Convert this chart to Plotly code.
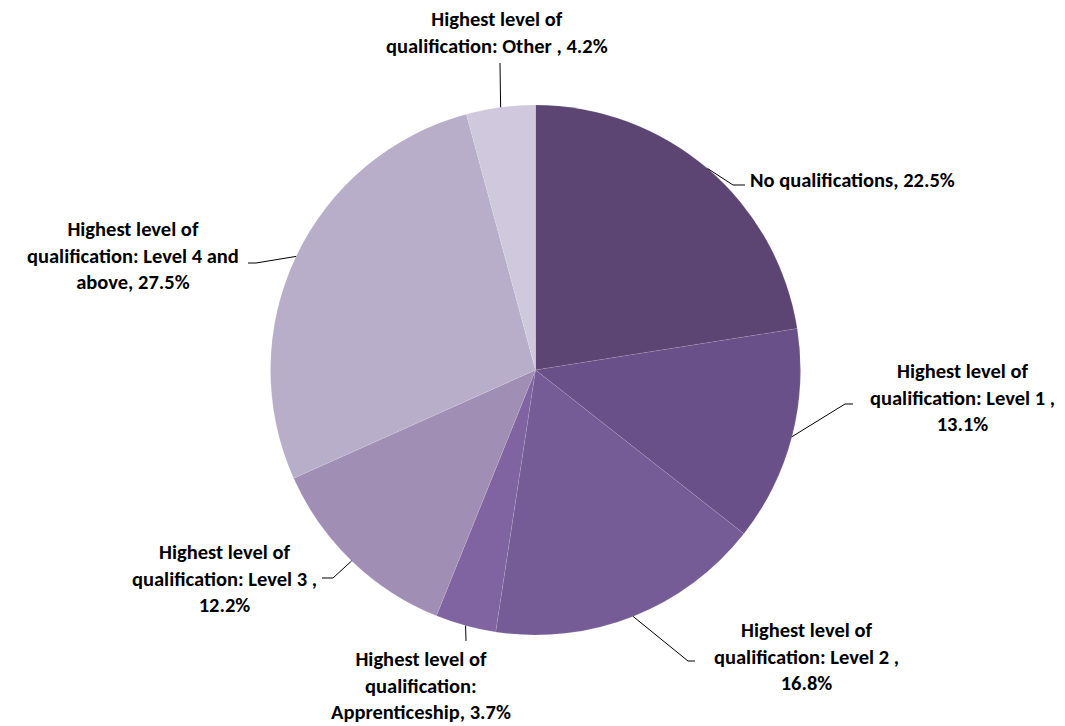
import math
import plotly.graph_objects as go

# ---- data ----
categories = [
    "No qualifications",
    "Highest level of qualification: Level 1 ",
    "Highest level of qualification: Level 2 ",
    "Highest level of qualification: Apprenticeship",
    "Highest level of qualification: Level 3 ",
    "Highest level of qualification: Level 4 and above",
    "Highest level of qualification: Other ",
]
values = [22.5, 13.1, 16.8, 3.7, 12.2, 27.5, 4.2]
colors = ["#5C4572", "#6A5088", "#755C96", "#8064A2", "#A08EB5", "#B8AECA", "#D0C9DD"]
label_texts = [
    "No qualifications, 22.5%",
    "Highest level of<br>qualification: Level 1 ,<br>13.1%",
    "Highest level of<br>qualification: Level 2 ,<br>16.8%",
    "Highest level of<br>qualification:<br>Apprenticeship, 3.7%",
    "Highest level of<br>qualification: Level 3 ,<br>12.2%",
    "Highest level of<br>qualification: Level 4 and<br>above, 27.5%",
    "Highest level of<br>qualification: Other , 4.2%",
]

# ---- layout (pixels) ----
W, H = 1065, 726
CX, CY, R = 535.5, 370.0, 265.0
# label anchor (x, y, xanchor) and leader-line elbow / end (pixels)
label_pos = [
    (748, 180, "left"),
    (962, 397, "center"),
    (806, 656, "center"),
    (421, 685, "center"),
    (224, 578, "center"),
    (133, 255, "center"),
    (497, 33, "center"),
]
elbows = [
    [(733, 185), (745, 185)],
    [(845, 404), (853, 404)],
    [(688, 661), (695, 661)],
    [(466, 641)],
    [(333, 578), (322, 578)],
    [(256, 263), (248, 263)],
    [(500, 63)],
]

FONT = "Calibri, Carlito, Lato, sans-serif"
FSIZE = 20.5

fig = go.Figure(go.Pie(
    labels=categories,
    values=values,
    sort=False,
    direction="clockwise",
    rotation=0,
    marker=dict(colors=colors, line=dict(color="rgba(255,255,255,0.2)", width=0.5)),
    textinfo="none",
    hoverinfo="label+percent",
    showlegend=False,
    domain=dict(x=[(CX - R) / W, (CX + R) / W], y=[(H - CY - R) / H, (H - CY + R) / H]),
))

def px(x):
    return x / W

def py(y):
    return 1 - y / H

total = sum(values)
cum = 0.0
shapes = []
annotations = []
for i, v in enumerate(values):
    mid = (cum + v / 2) / total * 2 * math.pi
    cum += v
    x0 = CX + R * math.sin(mid)
    y0 = CY - R * math.cos(mid)
    pts = [(x0, y0)] + elbows[i]
    path = "M " + " L ".join(f"{px(a):.5f},{py(b):.5f}" for a, b in pts)
    shapes.append(dict(type="path", path=path, xref="paper", yref="paper",
                       line=dict(color="#000000", width=1)))
    lx, ly, anc = label_pos[i]
    annotations.append(dict(
        x=px(lx), y=py(ly), xref="paper", yref="paper",
        text=label_texts[i], showarrow=False, xanchor=anc, yanchor="middle",
        align="center", font=dict(family=FONT, size=FSIZE, color="#000000", weight="bold"),
    ))

fig.update_layout(
    width=W, height=H,
    margin=dict(l=0, r=0, t=0, b=0),
    paper_bgcolor="white",
    plot_bgcolor="white",
    shapes=shapes,
    annotations=annotations,
    font=dict(family=FONT, size=FSIZE, color="#000000"),
)

fig.write_html("out.html", config={"displayModeBar": False},
               post_script="document.body.style.margin='0';document.body.style.padding='0';")
